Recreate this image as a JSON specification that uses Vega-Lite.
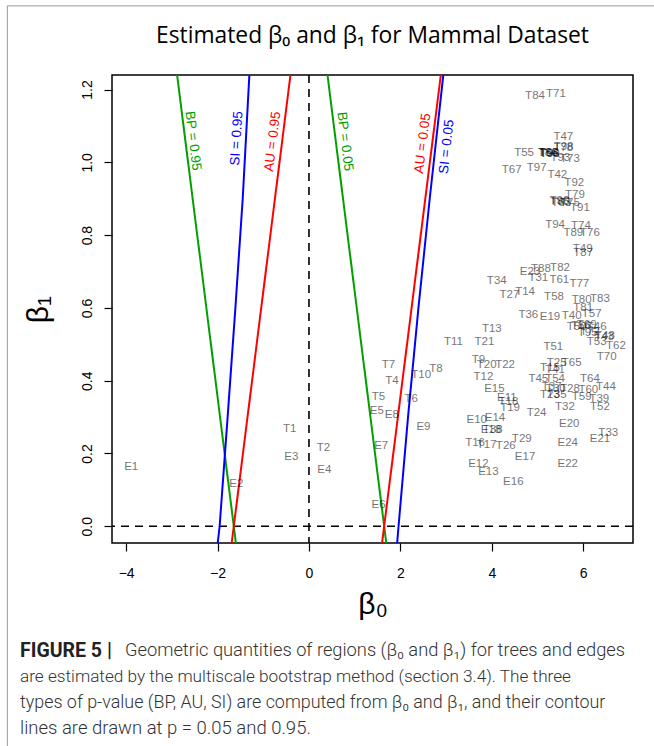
{
  "$schema": "https://vega.github.io/schema/vega-lite/v6.json",
  "width": 521,
  "height": 468,
  "autosize": "none",
  "padding": {"left": 112, "top": 75, "right": 21, "bottom": 203},
  "background": "white",
  "title": {"text": "Estimated β₀ and β₁ for Mammal Dataset", "font": "Open Sans", "fontSize": 22.8, "fontWeight": "normal", "color": "black", "anchor": "middle", "frame": "group", "baseline": "alphabetic", "offset": -60.6},
  "config": {
    "view": {"stroke": "black", "strokeWidth": 1.5},
    "font": "Liberation Sans",
    "axis": {"grid": false, "domain": false, "tickColor": "black", "tickWidth": 1.2, "tickSize": 8, "labelFontSize": 14, "labelColor": "black", "labelFont": "Liberation Sans", "titleFont": "Liberation Sans", "titleFontWeight": "normal", "titleColor": "black", "titleFontSize": 30}
  },
  "datasets": {
    "lines": [
      {"group": "BP95", "b0": -1.595, "b1": -0.05}, {"group": "BP95", "b0": -2.895, "b1": 1.25},
      {"group": "BP05", "b0": 1.695, "b1": -0.05}, {"group": "BP05", "b0": 0.395, "b1": 1.25},
      {"group": "AU95", "b0": -1.695, "b1": -0.05}, {"group": "AU95", "b0": -0.395, "b1": 1.25},
      {"group": "AU05", "b0": 1.595, "b1": -0.05}, {"group": "AU05", "b0": 2.895, "b1": 1.25},
      {"group": "SI05", "b0": 1.927, "b1": -0.05}, {"group": "SI05", "b0": 1.96, "b1": 0}, {"group": "SI05", "b0": 2.167, "b1": 0.3}, {"group": "SI05", "b0": 2.395, "b1": 0.6}, {"group": "SI05", "b0": 2.642, "b1": 0.9}, {"group": "SI05", "b0": 2.948, "b1": 1.25},
      {"group": "SI95", "b0": -2.0, "b1": -0.05}, {"group": "SI95", "b0": -1.955, "b1": 0}, {"group": "SI95", "b0": -1.78, "b1": 0.3}, {"group": "SI95", "b0": -1.61, "b1": 0.6}, {"group": "SI95", "b0": -1.45, "b1": 0.9}, {"group": "SI95", "b0": -1.3, "b1": 1.25}
    ],
    "linelabels": [
      {"group": "BP95", "label": "BP = 0.95", "b0": -2.538, "b1": 1.059},
      {"group": "SI95", "label": "SI = 0.95", "b0": -1.581, "b1": 1.066},
      {"group": "AU95", "label": "AU = 0.95", "b0": -0.794, "b1": 1.057},
      {"group": "BP05", "label": "BP = 0.05", "b0": 0.788, "b1": 1.057},
      {"group": "AU05", "label": "AU = 0.05", "b0": 2.489, "b1": 1.052},
      {"group": "SI05", "label": "SI = 0.05", "b0": 3.014, "b1": 1.043}
    ],
    "points": [
      {"name": "E1", "b0": -3.89, "b1": 0.163},
      {"name": "E2", "b0": -1.589, "b1": 0.116},
      {"name": "E3", "b0": -0.387, "b1": 0.189},
      {"name": "E4", "b0": 0.334, "b1": 0.154},
      {"name": "E5", "b0": 1.484, "b1": 0.316},
      {"name": "E6", "b0": 1.522, "b1": 0.058},
      {"name": "E7", "b0": 1.58, "b1": 0.22},
      {"name": "E8", "b0": 1.814, "b1": 0.307},
      {"name": "E9", "b0": 2.505, "b1": 0.273},
      {"name": "E10", "b0": 3.672, "b1": 0.292},
      {"name": "E11", "b0": 4.328, "b1": 0.353},
      {"name": "E12", "b0": 3.707, "b1": 0.171},
      {"name": "E13", "b0": 3.926, "b1": 0.148},
      {"name": "E14", "b0": 4.07, "b1": 0.298},
      {"name": "E15", "b0": 4.057, "b1": 0.377},
      {"name": "E16", "b0": 4.472, "b1": 0.122},
      {"name": "E17", "b0": 4.728, "b1": 0.189},
      {"name": "E18", "b0": 3.98, "b1": 0.264},
      {"name": "E19", "b0": 5.274, "b1": 0.574},
      {"name": "E20", "b0": 5.696, "b1": 0.282},
      {"name": "E21", "b0": 6.367, "b1": 0.239},
      {"name": "E22", "b0": 5.661, "b1": 0.172},
      {"name": "E23", "b0": 4.837, "b1": 0.7},
      {"name": "E24", "b0": 5.661, "b1": 0.229},
      {"name": "T1", "b0": -0.424, "b1": 0.266},
      {"name": "T2", "b0": 0.319, "b1": 0.215},
      {"name": "T4", "b0": 1.814, "b1": 0.399},
      {"name": "T5", "b0": 1.522, "b1": 0.356},
      {"name": "T6", "b0": 2.236, "b1": 0.351},
      {"name": "T7", "b0": 1.74, "b1": 0.443},
      {"name": "T8", "b0": 2.776, "b1": 0.432},
      {"name": "T9", "b0": 3.707, "b1": 0.457},
      {"name": "T10", "b0": 2.455, "b1": 0.415},
      {"name": "T11", "b0": 3.161, "b1": 0.507},
      {"name": "T12", "b0": 3.816, "b1": 0.409},
      {"name": "T13", "b0": 4.0, "b1": 0.542},
      {"name": "T14", "b0": 4.728, "b1": 0.645},
      {"name": "T15", "b0": 5.274, "b1": 0.435},
      {"name": "T16", "b0": 3.635, "b1": 0.229},
      {"name": "T17", "b0": 3.89, "b1": 0.223},
      {"name": "T18", "b0": 4.363, "b1": 0.342},
      {"name": "T19", "b0": 4.4, "b1": 0.324},
      {"name": "T20", "b0": 3.89, "b1": 0.443},
      {"name": "T21", "b0": 3.838, "b1": 0.507},
      {"name": "T22", "b0": 4.29, "b1": 0.443},
      {"name": "T23", "b0": 5.274, "b1": 0.36},
      {"name": "T24", "b0": 4.98, "b1": 0.312},
      {"name": "T25", "b0": 5.42, "b1": 0.449},
      {"name": "T26", "b0": 4.306, "b1": 0.22},
      {"name": "T27", "b0": 4.385, "b1": 0.635},
      {"name": "T28", "b0": 5.711, "b1": 0.376},
      {"name": "T29", "b0": 4.656, "b1": 0.241},
      {"name": "T30", "b0": 5.4, "b1": 0.378},
      {"name": "T31", "b0": 5.019, "b1": 0.683},
      {"name": "T32", "b0": 5.6, "b1": 0.328},
      {"name": "T33", "b0": 6.549, "b1": 0.255},
      {"name": "T34", "b0": 4.109, "b1": 0.675},
      {"name": "T35", "b0": 5.42, "b1": 0.36},
      {"name": "T36", "b0": 4.8, "b1": 0.58},
      {"name": "T37", "b0": 5.311, "b1": 0.383},
      {"name": "T38", "b0": 4.02, "b1": 0.264},
      {"name": "T39", "b0": 6.352, "b1": 0.349},
      {"name": "T40", "b0": 5.749, "b1": 0.578},
      {"name": "T41", "b0": 5.384, "b1": 0.429},
      {"name": "T42", "b0": 5.434, "b1": 0.966},
      {"name": "T43", "b0": 6.46, "b1": 0.52},
      {"name": "T44", "b0": 6.498, "b1": 0.383},
      {"name": "T45", "b0": 5.019, "b1": 0.406},
      {"name": "T46", "b0": 6.295, "b1": 0.547},
      {"name": "T47", "b0": 5.565, "b1": 1.069},
      {"name": "T48", "b0": 6.477, "b1": 0.523},
      {"name": "T49", "b0": 5.99, "b1": 0.761},
      {"name": "T50", "b0": 5.858, "b1": 0.548},
      {"name": "T51", "b0": 5.347, "b1": 0.493},
      {"name": "T52", "b0": 6.367, "b1": 0.327},
      {"name": "T53", "b0": 6.295, "b1": 0.507},
      {"name": "T54", "b0": 5.384, "b1": 0.404},
      {"name": "T55", "b0": 4.706, "b1": 1.027},
      {"name": "T56", "b0": 5.95, "b1": 0.55},
      {"name": "T57", "b0": 6.186, "b1": 0.583},
      {"name": "T58", "b0": 5.362, "b1": 0.631},
      {"name": "T59", "b0": 5.967, "b1": 0.354},
      {"name": "T60", "b0": 6.112, "b1": 0.374},
      {"name": "T61", "b0": 5.478, "b1": 0.677},
      {"name": "T62", "b0": 6.717, "b1": 0.496},
      {"name": "T63", "b0": 5.52, "b1": 0.889},
      {"name": "T64", "b0": 6.148, "b1": 0.404},
      {"name": "T65", "b0": 5.749, "b1": 0.449},
      {"name": "T66", "b0": 5.237, "b1": 1.025},
      {"name": "T67", "b0": 4.437, "b1": 0.979},
      {"name": "T68", "b0": 5.25, "b1": 1.025},
      {"name": "T69", "b0": 6.077, "b1": 0.553},
      {"name": "T70", "b0": 6.514, "b1": 0.464},
      {"name": "T71", "b0": 5.405, "b1": 1.188},
      {"name": "T72", "b0": 6.149, "b1": 0.535},
      {"name": "T73", "b0": 5.711, "b1": 1.009},
      {"name": "T74", "b0": 5.952, "b1": 0.825},
      {"name": "T75", "b0": 5.711, "b1": 0.889},
      {"name": "T76", "b0": 6.149, "b1": 0.807},
      {"name": "T77", "b0": 5.915, "b1": 0.665},
      {"name": "T78", "b0": 5.565, "b1": 1.039},
      {"name": "T79", "b0": 5.82, "b1": 0.911},
      {"name": "T80", "b0": 5.967, "b1": 0.622},
      {"name": "T81", "b0": 6.0, "b1": 0.599},
      {"name": "T82", "b0": 5.493, "b1": 0.711},
      {"name": "T83", "b0": 6.367, "b1": 0.624},
      {"name": "T84", "b0": 4.946, "b1": 1.181},
      {"name": "T85", "b0": 5.493, "b1": 0.892},
      {"name": "T86", "b0": 5.22, "b1": 1.027},
      {"name": "T87", "b0": 6.0, "b1": 0.75},
      {"name": "T88", "b0": 5.077, "b1": 0.706},
      {"name": "T89", "b0": 5.784, "b1": 0.807},
      {"name": "T90", "b0": 5.48, "b1": 0.894},
      {"name": "T91", "b0": 5.93, "b1": 0.874},
      {"name": "T92", "b0": 5.805, "b1": 0.944},
      {"name": "T93", "b0": 5.5, "b1": 1.012},
      {"name": "T94", "b0": 5.384, "b1": 0.828},
      {"name": "T95", "b0": 6.1, "b1": 0.53},
      {"name": "T96", "b0": 5.26, "b1": 1.023},
      {"name": "T97", "b0": 4.984, "b1": 0.984},
      {"name": "T98", "b0": 5.57, "b1": 1.042},
      {"name": "T99", "b0": 5.27, "b1": 1.022}
    ],
    "caption": [
      {"line": 1, "part": "bold", "text": "FIGURE 5 |"},
      {"line": 1, "part": "rest", "text": "Geometric quantities of regions (β₀ and β₁) for trees and edges"},
      {"line": 2, "part": "rest", "text": "are estimated by the multiscale bootstrap method (section 3.4). The three"},
      {"line": 3, "part": "rest", "text": "types of p-value (BP, AU, SI) are computed from β₀ and β₁, and their contour"},
      {"line": 4, "part": "rest", "text": "lines are drawn at p = 0.05 and 0.95."}
    ]
  },
  "layer": [
    {
      "data": {"values": [{}]},
      "mark": {"type": "rule", "color": "#9a9a9a", "strokeWidth": 1},
      "encoding": {
        "x": {"datum": -6.6, "type": "quantitative", "scale": {"domain": [-4.31, 7.09], "nice": false, "zero": false}, "axis": {"values": [-4, -2, 0, 2, 4, 6], "title": "β₀", "labelPadding": 15, "titlePadding": 9, "labelFlush": false}},
        "y": {"datum": 1.43, "type": "quantitative", "scale": {"domain": [-0.046, 1.24], "nice": false, "zero": false}, "axis": {"values": [0, 0.2, 0.4, 0.6, 0.8, 1.0, 1.2], "format": ".1f", "labelAngle": -90, "labelAlign": "center", "labelBaseline": "bottom", "labelPadding": 10, "title": "β₁", "titlePadding": 27, "labelFlush": false}},
        "y2": {"datum": -0.8}
      }
    },
    {
      "data": {"values": [{}]},
      "mark": {"type": "rule", "color": "#9a9a9a", "strokeWidth": 1},
      "encoding": {
        "x": {"datum": -6.6, "type": "quantitative"},
        "x2": {"datum": 7.8},
        "y": {"datum": 1.43, "type": "quantitative"}
      }
    },
    {
      "data": {"values": [{}]},
      "mark": {"type": "rule", "color": "black", "strokeWidth": 1.6, "strokeDash": [8, 6]},
      "encoding": {"x": {"datum": 0, "type": "quantitative"}}
    },
    {
      "data": {"values": [{}]},
      "mark": {"type": "rule", "color": "black", "strokeWidth": 1.6, "strokeDash": [8, 6]},
      "encoding": {"y": {"datum": 0, "type": "quantitative"}}
    },
    {
      "data": {"name": "lines"},
      "mark": {"type": "line", "clip": true, "strokeWidth": 2},
      "encoding": {
        "x": {"field": "b0", "type": "quantitative"},
        "y": {"field": "b1", "type": "quantitative"},
        "order": {"field": "b1", "type": "quantitative"},
        "color": {"field": "group", "type": "nominal", "scale": {"domain": ["BP95", "BP05", "AU95", "AU05", "SI95", "SI05"], "range": ["#00a000", "#00a000", "#ff0000", "#ff0000", "#0000ff", "#0000ff"]}, "legend": null}
      }
    },
    {
      "data": {"name": "linelabels"},
      "transform": [{"filter": "datum.group == 'BP95' || datum.group == 'BP05'"}],
      "mark": {"type": "text", "fontSize": 13.5, "angle": 83, "align": "center", "baseline": "middle"},
      "encoding": {
        "x": {"field": "b0", "type": "quantitative"},
        "y": {"field": "b1", "type": "quantitative"},
        "text": {"field": "label"},
        "color": {"field": "group", "type": "nominal", "legend": null}
      }
    },
    {
      "data": {"name": "linelabels"},
      "transform": [{"filter": "datum.group == 'AU95' || datum.group == 'AU05'"}],
      "mark": {"type": "text", "fontSize": 13.5, "angle": -83, "align": "center", "baseline": "middle"},
      "encoding": {
        "x": {"field": "b0", "type": "quantitative"},
        "y": {"field": "b1", "type": "quantitative"},
        "text": {"field": "label"},
        "color": {"field": "group", "type": "nominal", "legend": null}
      }
    },
    {
      "data": {"name": "linelabels"},
      "transform": [{"filter": "datum.group == 'SI95'"}],
      "mark": {"type": "text", "fontSize": 13.5, "angle": -86.5, "align": "center", "baseline": "middle"},
      "encoding": {
        "x": {"field": "b0", "type": "quantitative"},
        "y": {"field": "b1", "type": "quantitative"},
        "text": {"field": "label"},
        "color": {"field": "group", "type": "nominal", "legend": null}
      }
    },
    {
      "data": {"name": "linelabels"},
      "transform": [{"filter": "datum.group == 'SI05'"}],
      "mark": {"type": "text", "fontSize": 13.5, "angle": -84, "align": "center", "baseline": "middle"},
      "encoding": {
        "x": {"field": "b0", "type": "quantitative"},
        "y": {"field": "b1", "type": "quantitative"},
        "text": {"field": "label"},
        "color": {"field": "group", "type": "nominal", "legend": null}
      }
    },
    {
      "data": {"name": "points"},
      "mark": {"type": "text", "fontSize": 11.5, "color": "black", "opacity": 0.55, "align": "center", "baseline": "middle"},
      "encoding": {
        "x": {"field": "b0", "type": "quantitative"},
        "y": {"field": "b1", "type": "quantitative"},
        "text": {"field": "name"}
      }
    },
    {
      "data": {"name": "caption"},
      "transform": [{"filter": "datum.part == 'bold'"}],
      "mark": {"type": "text", "font": "Roboto", "fontSize": 19.5, "fontWeight": "bold", "color": "#222222", "align": "left", "baseline": "middle"},
      "encoding": {"x": {"datum": -6.323, "type": "quantitative"}, "y": {"datum": -0.3429, "type": "quantitative"}, "text": {"field": "text"}}
    },
    {
      "data": {"name": "caption"},
      "transform": [{"filter": "datum.line == 1 && datum.part == 'rest'"}],
      "mark": {"type": "text", "font": "Roboto", "fontSize": 18.3, "fontWeight": 300, "color": "#333333", "align": "left", "baseline": "middle"},
      "encoding": {"x": {"datum": -4.026, "type": "quantitative"}, "y": {"datum": -0.3429, "type": "quantitative"}, "text": {"field": "text"}}
    },
    {
      "data": {"name": "caption"},
      "transform": [{"filter": "datum.line == 2"}],
      "mark": {"type": "text", "font": "Roboto", "fontSize": 17.2, "fontWeight": 300, "color": "#333333", "align": "left", "baseline": "middle"},
      "encoding": {"x": {"datum": -6.323, "type": "quantitative"}, "y": {"datum": -0.4143, "type": "quantitative"}, "text": {"field": "text"}}
    },
    {
      "data": {"name": "caption"},
      "transform": [{"filter": "datum.line == 3"}],
      "mark": {"type": "text", "font": "Roboto", "fontSize": 17.9, "fontWeight": 300, "color": "#333333", "align": "left", "baseline": "middle"},
      "encoding": {"x": {"datum": -6.323, "type": "quantitative"}, "y": {"datum": -0.4857, "type": "quantitative"}, "text": {"field": "text"}}
    },
    {
      "data": {"name": "caption"},
      "transform": [{"filter": "datum.line == 4"}],
      "mark": {"type": "text", "font": "Roboto", "fontSize": 18.5, "fontWeight": 300, "color": "#333333", "align": "left", "baseline": "middle"},
      "encoding": {"x": {"datum": -6.323, "type": "quantitative"}, "y": {"datum": -0.5545, "type": "quantitative"}, "text": {"field": "text"}}
    }
  ]
}
